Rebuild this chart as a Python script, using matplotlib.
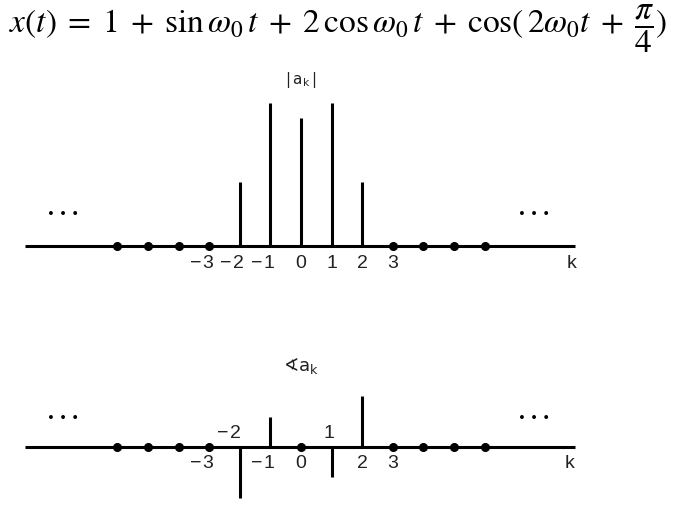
import matplotlib
matplotlib.use("Agg")
import matplotlib.pyplot as plt

# |a_k| line spectrum
k_mag = [-2, -1, 0, 1, 2]
mag = [0.5, 1.12, 1.0, 1.12, 0.5]
k_zero_top = [-6, -5, -4, -3, 3, 4, 5, 6]
top_labels = [-3, -2, -1, 0, 1, 2, 3]

# phase spectrum
k_phase = [-2, -1, 1, 2]
phase = [-0.79, 0.46, -0.46, 0.79]
k_zero_bot = [-6, -5, -4, -3, 0, 3, 4, 5, 6]
bot_labels_below = [-3, -1, 0, 2, 3]
bot_labels_above = [-2, 1]

W, H = 676, 508
K0_PX, K_STEP = 301, 30.6          # pixel of k=0 and pixels per k
XL = -K0_PX / K_STEP
XR = (W - K0_PX) / K_STEP
AX_LEFT, AX_RIGHT = (25 - K0_PX) / K_STEP, (575 - K0_PX) / K_STEP

FONT = ["Liberation Sans Narrow", "Liberation Sans"]
TXT = "#222222"

fig = plt.figure(figsize=(W / 100, H / 100), dpi=100)


def make_axes(top_px, bot_px, zero_px, scale):
    ax = fig.add_axes([0, 1 - bot_px / H, 1, (bot_px - top_px) / H])
    ax.set_xlim(XL, XR)
    ax.set_ylim(-(bot_px - zero_px) / scale, (zero_px - top_px) / scale)
    ax.axis("off")
    return ax


def tick_label(ax, k, y, dx=0.0, fs=14):
    # digit centred on k, minus sign hangs to the left
    if k < 0:
        ax.text(k + dx + 0.14, y, "\u2212\u200a" + str(-k), ha="right", va="center",
                fontsize=fs, family=FONT, color=TXT)
    else:
        ax.text(k + dx, y, str(k), ha="center", va="center",
                fontsize=fs, family=FONT, color=TXT)


def dots(ax, y):
    for x in [(63 - K0_PX) / K_STEP, (534 - K0_PX) / K_STEP]:
        ax.text(x, y, "\u2022 \u2022 \u2022", ha="center", va="center",
                fontsize=9.5, color="black", family="DejaVu Sans")


# ---- formula
fig.text(0.5, 1 - 29 / H,
         r"$x(t)\;=\;1\;+\;\sin\omega_0\,t\;+\;2\,\cos\omega_0\,t\;+\;\cos(\,2\omega_0 t\;+\;\dfrac{\pi}{4})$",
         ha="center", va="center", fontsize=24, math_fontfamily="stix")

# ---- top: magnitude
s1 = 128.0
ax1 = make_axes(70, 290, 246, s1)
ax1.hlines(0, AX_LEFT, AX_RIGHT, color="black", lw=2.2)
ax1.vlines(k_mag, 0, mag, color="black", lw=2.2)
ax1.plot(k_zero_top, [0] * len(k_zero_top), "o", color="black", ms=5.5)
for k in top_labels:
    tick_label(ax1, k, -17 / s1)
ax1.text((572 - K0_PX) / K_STEP, -17 / s1, "k", ha="center", va="center",
         fontsize=14, family=FONT, color=TXT)
ax1.text(0, (246 - 80) / s1, r"$|\,\mathsf{a}_{\mathsf{k}}\,|$", ha="center",
         va="center", fontsize=11, math_fontfamily="dejavusans", color=TXT)
dots(ax1, (246 - 215) / s1)

# ---- bottom: phase
s2 = 65.0
ax2 = make_axes(345, 508, 447, s2)
ax2.hlines(0, AX_LEFT, AX_RIGHT, color="black", lw=2.2)
ax2.vlines(k_phase, 0, phase, color="black", lw=2.2)
ax2.plot(k_zero_bot, [0] * len(k_zero_bot), "o", color="black", ms=5.5)
for k in bot_labels_below:
    tick_label(ax2, k, -17 / s2)
for k in bot_labels_above:
    tick_label(ax2, k, 14 / s2, dx=-0.1)
ax2.text((570 - K0_PX) / K_STEP, -17 / s2, "k", ha="center", va="center",
         fontsize=14, family=FONT, color=TXT)
ax2.text(0, (447 - 366) / s2, "\u2222" + r"$\mathsf{a}_{\mathsf{k}}$", ha="center",
         va="center", fontsize=13, math_fontfamily="dejavusans", color=TXT,
         family="DejaVu Sans")
dots(ax2, (447 - 419) / s2)

fig.savefig("out.png", dpi=100)
